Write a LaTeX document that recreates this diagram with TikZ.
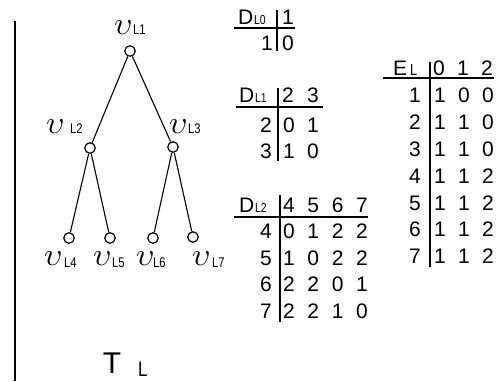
\documentclass[tikz,border=0pt]{standalone}
\usepackage{graphicx}
\usepackage{fontspec}
\setmainfont{Liberation Sans}
\newfontfamily\narrowsans[FakeStretch=0.8]{Liberation Sans}
\begin{document}
\begin{tikzpicture}[x=1pt,y=-1pt,
  vtx/.style={circle,draw,line width=1.2pt,inner sep=0pt,minimum size=10.5pt,fill=white},
  edge/.style={line width=1.1pt},
  vl/.style={inner sep=0pt,anchor=base west},
  sub/.style={inner sep=0pt,anchor=base west,font=\narrowsans\fontsize{14}{14}\selectfont},
  tsub/.style={inner sep=0pt,anchor=base west,font=\narrowsans\fontsize{13}{13}\selectfont},
  dg/.style={inner sep=0pt,anchor=base,font=\fontsize{21}{21}\selectfont},
  rulel/.style={line width=1.6pt}]
\useasboundingbox (0,0) rectangle (504,381);
% left border line
\coordinate (lt) at (15,21);
\coordinate (lb) at (15,381);
\draw[rulel] (lt) -- (lb);
% tree
\node[vtx] (v1) at (130,51) {};
\node[vtx] (v2) at (90,148) {};
\node[vtx] (v3) at (173,147) {};
\node[vtx] (v4) at (69,238) {};
\node[vtx] (v5) at (110,238) {};
\node[vtx] (v6) at (153,238) {};
\node[vtx] (v7) at (193,237) {};
\draw[edge] (v1) -- (v2);
\draw[edge] (v1) -- (v3);
\draw[edge] (v2) -- (v4);
\draw[edge] (v2) -- (v5);
\draw[edge] (v3) -- (v6);
\draw[edge] (v3) -- (v7);
% vertex labels
\newcommand{\ups}{\scalebox{3.2}{$\upsilon$}}
\node[vl] (u1) at (114,34) {\ups};  \node[sub] (s1) at (133,34) {L1};
\node[vl] (u2) at (46,133) {\ups};  \node[sub] (s2) at (70,133) {L2};
\node[vl] (u3) at (169,133) {\ups}; \node[sub] (s3) at (188,133) {L3};
\node[vl] (u4) at (44,265) {\ups};  \node[sub] (s4) at (64,267) {L4};
\node[vl] (u5) at (93,265) {\ups};  \node[sub] (s5) at (112,267) {L5};
\node[vl] (u6) at (136,265) {\ups}; \node[sub] (s6) at (153,267) {L6};
\node[vl] (u7) at (192,265) {\ups}; \node[sub] (s7) at (212,267) {L7};
% T_L
\node[inner sep=0pt,anchor=base,font=\fontsize{30}{30}\selectfont] (tl) at (112,373) {T};
\node[inner sep=0pt,anchor=base west,font=\narrowsans\fontsize{21}{21}\selectfont] (tls) at (138,376) {L};
% ---------- D_L0 ----------
\node[dg,anchor=base west] (d0D) at (238,24) {D};
\node[tsub] (d0s) at (254,24) {L0};
\node[dg] (d0h1) at (288,24) {1};
\node[dg] (d0r1) at (267,50) {1};
\node[dg] (d0c11) at (288,50) {0};
\coordinate (d0vt) at (277,10); \coordinate (d0vb) at (277,51);
\coordinate (d0ul) at (234,28); \coordinate (d0ur) at (295,28);
\draw[rulel] (d0vt) -- (d0vb);
\draw[rulel] (d0ul) -- (d0ur);
% ---------- D_L1 ----------
\node[dg,anchor=base west] (d1D) at (239,102) {D};
\node[tsub] (d1s) at (255,102) {L1};
\node[dg] (d1h1) at (288,102) {2};
\node[dg] (d1h2) at (313,102) {3};
\node[dg] (d1r1) at (266,132) {2};
\node[dg] (d1c11) at (289,132) {0};
\node[dg] (d1c12) at (313,132) {1};
\node[dg] (d1r2) at (266,158) {3};
\node[dg] (d1c21) at (289,158) {1};
\node[dg] (d1c22) at (313,158) {0};
\coordinate (d1vt) at (278,88); \coordinate (d1vb) at (278,161);
\coordinate (d1ul) at (236,107); \coordinate (d1ur) at (323,107);
\draw[rulel] (d1vt) -- (d1vb);
\draw[rulel] (d1ul) -- (d1ur);
% ---------- D_L2 ----------
\node[dg,anchor=base west] (d2D) at (239,212) {D};
\node[tsub] (d2s) at (255,212) {L2};
\foreach \h [count=\k] in {4,5,6,7}
  \node[dg] (d2h\k) at ({289+24.3*(\k-1)},212) {\h};
\foreach \r/\yy/\vals in {4/238/{0,1,2,2},5/265/{1,0,2,2},6/291/{2,2,0,1},7/318/{2,2,1,0}}{
  \node[dg] (d2r\r) at (266,\yy) {\r};
  \foreach \v [count=\k] in \vals
    \node[dg] (d2c\r\k) at ({289+24.3*(\k-1)},\yy) {\v};
}
\coordinate (d2vt) at (280,195); \coordinate (d2vb) at (280,322);
\coordinate (d2ul) at (234,217); \coordinate (d2ur) at (368,217);
\draw[rulel] (d2vt) -- (d2vb);
\draw[rulel] (d2ul) -- (d2ur);
% ---------- E_L ----------
\node[dg,anchor=base west] (eE) at (393,75) {E};
\node[inner sep=0pt,anchor=base west,font=\narrowsans\fontsize{16}{16}\selectfont] (es) at (410,75) {L};
\foreach \h [count=\k] in {0,1,2}
  \node[dg] (eh\k) at ({439+24*(\k-1)},75) {\h};
\foreach \r/\yy/\vals in {1/102/{1,0,0},2/129/{1,1,0},3/156/{1,1,0},4/183/{1,1,2},5/210/{1,1,2},6/236/{1,1,2},7/263/{1,1,2}}{
  \node[dg] (er\r) at (415,\yy) {\r};
  \foreach \v [count=\k] in \vals
    \node[dg] (ec\r\k) at ({440+24*(\k-1)},\yy) {\v};
}
\coordinate (evt) at (430,62); \coordinate (evb) at (430,267);
\coordinate (eul) at (383,78); \coordinate (eur) at (494,78);
\draw[rulel] (evt) -- (evb);
\draw[rulel] (eul) -- (eur);
\end{tikzpicture}
\end{document}
